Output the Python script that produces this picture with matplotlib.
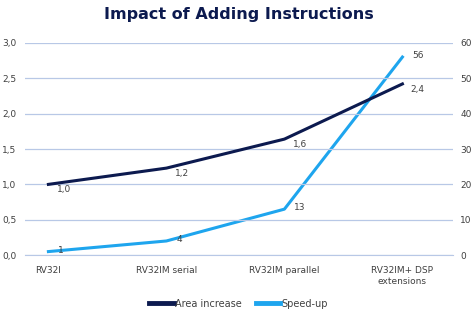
import matplotlib
matplotlib.use("Agg")
import matplotlib.pyplot as plt
from matplotlib.ticker import FuncFormatter

# ---- data ----
categories = ["RV32I", "RV32IM serial", "RV32IM parallel", "RV32IM+ DSP\nextensions"]
area_increase = [1.0, 1.23, 1.64, 2.42]
speed_up = [1, 4, 13, 56]
area_labels = ["1,0", "1,2", "1,6", "2,4"]
speed_labels = ["1", "4", "13", "56"]

navy = "#0c1a4f"
light = "#1ea5ee"
grid_c = "#b8c8e6"
text_c = "#404040"

fig = plt.figure(figsize=(4.77, 3.25), dpi=100)
ax = fig.add_axes([0.052, 0.215, 0.898, 0.653])
ax2 = ax.twinx()

x = list(range(len(categories)))
ax.plot(x, area_increase, color=navy, lw=2.2, label="Area increase", zorder=3)
ax2.plot(x, speed_up, color=light, lw=2.2, label="Speed-up", zorder=3)

for xi, v, t in zip(x, area_increase, area_labels):
    ax.annotate(t, (xi, v), xytext=(6, -4), textcoords="offset points",
                fontsize=6.5, color=text_c, va="center")
for xi, v, t in zip(x, speed_up, speed_labels):
    ax2.annotate(t, (xi, v), xytext=(7, 1), textcoords="offset points",
                 fontsize=6.5, color=text_c, va="center")

ax.set_xlim(-0.2, 3.43)
ax.set_ylim(0, 3.0)
ax2.set_ylim(0, 60)
ax.set_yticks([0, 0.5, 1.0, 1.5, 2.0, 2.5, 3.0])
ax2.set_yticks(range(0, 61, 10))
ax.yaxis.set_major_formatter(FuncFormatter(lambda v, p: f"{v:.1f}".replace(".", ",")))
ax.set_xticks(x)
ax.set_xticklabels(categories)

ax.grid(axis="y", color=grid_c, lw=0.9)
ax.set_axisbelow(True)
for a in (ax, ax2):
    for s in a.spines.values():
        s.set_visible(False)
    a.tick_params(length=0, labelsize=6.5, labelcolor=text_c)
ax.spines["bottom"].set_visible(True)
ax.spines["bottom"].set_color(grid_c)
ax.tick_params(axis="y", pad=6)
ax2.tick_params(axis="y", pad=5)
ax.tick_params(axis="x", pad=8)
ax.set_zorder(ax2.get_zorder() + 1)
ax.patch.set_visible(False)

fig.suptitle("Impact of Adding Instructions", x=0.5, y=0.98, fontsize=11.5,
             fontweight="bold", color=navy)

h1, l1 = ax.get_legend_handles_labels()
h2, l2 = ax2.get_legend_handles_labels()
leg = fig.legend(h1 + h2, l1 + l2, loc="center", bbox_to_anchor=(0.5, 0.065), ncol=2,
                 frameon=False, fontsize=7, handlelength=2.5, handletextpad=0.1,
                 columnspacing=1.5)
for line in leg.get_lines():
    line.set_linewidth(3.5)
for t in leg.get_texts():
    t.set_color(text_c)

fig.savefig("out.png", dpi=100)
